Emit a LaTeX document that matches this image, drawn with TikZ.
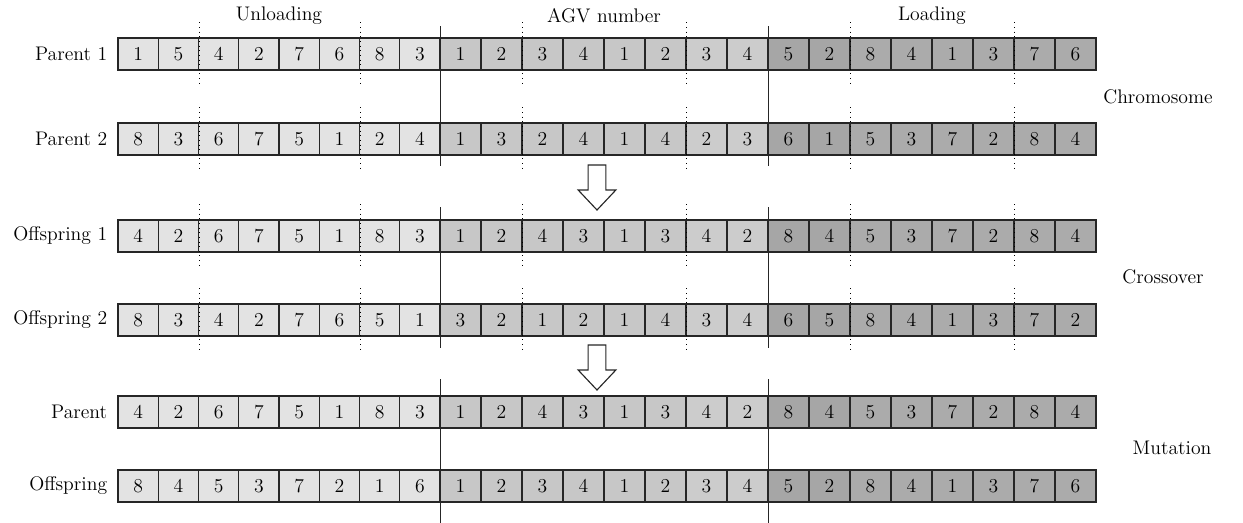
\documentclass[tikz,border=0pt]{standalone}
\usepackage{tikz}
\usetikzlibrary{positioning,calc}

\definecolor{shade0}{gray}{0.89}
\definecolor{shade1}{gray}{0.78}
\definecolor{shade2}{gray}{0.80}
\definecolor{shade3}{gray}{0.65}
\definecolor{shade4}{gray}{0.67}

\tikzset{
  gene/.style={draw=black!85,line width=0.8pt,minimum height=0.8cm,inner sep=0pt},
  rowlabel/.style={inner sep=0pt},
  part/.style={inner sep=0pt},
  sep/.style={line width=0.7pt,dash pattern=on 0.7pt off 2.6pt},
  divider/.style={line width=0.7pt,black!85},
  hollow/.style={draw=black!85,line width=0.8pt,fill=white}
}

% one chromosome: name, y, 24 genes
\newcommand{\chrom}[3]{%
  \foreach \v [count=\i] in {#3} {
    \pgfmathsetmacro{\w}{\i<9 ? 40.25 : 41}
    \pgfmathsetmacro{\xc}{\i<9 ? 118+(\i-0.5)*40.25 : 440+(\i-8.5)*41}
    \pgfmathtruncatemacro{\s}{(\i>8)+(\i>14)+(\i>16)+(\i>18)}
    \node[gene,minimum width=\w*0.025cm,fill=shade\s] (#1-\i) at (\xc,#2) {\v};
  }}

\begin{document}
\begin{tikzpicture}[x=0.025cm,y=-0.025cm,font=\fontsize{14}{17}\selectfont]
\useasboundingbox (0,0) rectangle (1243,522);
\chrom{p1}{54}{1,5,4,2,7,6,8,3,1,2,3,4,1,2,3,4,5,2,8,4,1,3,7,6}
\chrom{p2}{139}{8,3,6,7,5,1,2,4,1,3,2,4,1,4,2,3,6,1,5,3,7,2,8,4}
%
\chrom{o1}{236}{4,2,6,7,5,1,8,3,1,2,4,3,1,3,4,2,8,4,5,3,7,2,8,4}
\chrom{o2}{320}{8,3,4,2,7,6,5,1,3,2,1,2,1,4,3,4,6,5,8,4,1,3,7,2}
%
\chrom{mp}{412}{4,2,6,7,5,1,8,3,1,2,4,3,1,3,4,2,8,4,5,3,7,2,8,4}
\chrom{mo}{486}{8,4,5,3,7,2,1,6,1,2,3,4,1,2,3,4,5,2,8,4,1,3,7,6}
%
\node[rowlabel,left=0.25cm of p1-1] (lp1) {Parent 1};
\node[rowlabel,left=0.25cm of p2-1] (lp2) {Parent 2};
\node[rowlabel,left=0.25cm of o1-1] (lo1) {Offspring 1};
\node[rowlabel,left=0.25cm of o2-1] (lo2) {Offspring 2};
\node[rowlabel,left=0.25cm of mp-1] (lmp) {Parent};
\node[rowlabel,left=0.25cm of mo-1] (lmo) {Offspring};
%
\node[part] (unl) at (279,16) {Unloading};
\node[part] (agv) at (604,16) {AGV number};
\node[part] (lod) at (932,16) {Loading};
\node[part] (chr) at (1158,97) {Chromosome};
\node[part] (crs) at (1163,277) {Crossover};
\node[part] (mut) at (1172,448) {Mutation};
%%
\foreach \r in {p1,p2,o1,o2}
  \foreach \c in {2,6,10,14,18,22}
    \draw[sep] ($(\r-\c.north east)+(0,-15)$) -- ($(\r-\c.south east)+(0,15)$);
\foreach \t/\b/\u/\d in {p1/p2/11/10,o1/o2/12/11,mp/mo/16/20}
  \foreach \c in {8,16}
    \draw[divider] ($(\t-\c.north east)+(0,-\u)$) -- ($(\b-\c.south east)+(0,\d)$);
%%
\coordinate (arr1) at (597,165);
\coordinate (arr2) at (597,345);
\foreach \a in {arr1,arr2}
  \draw[hollow] (\a) ++(-8.85,0) -- ++(17.7,0) -- ++(0,25) -- ++(10,0)
    -- ++(-18.85,20) -- ++(-18.85,-20) -- ++(10,0) -- cycle;
\end{tikzpicture}
\end{document}
